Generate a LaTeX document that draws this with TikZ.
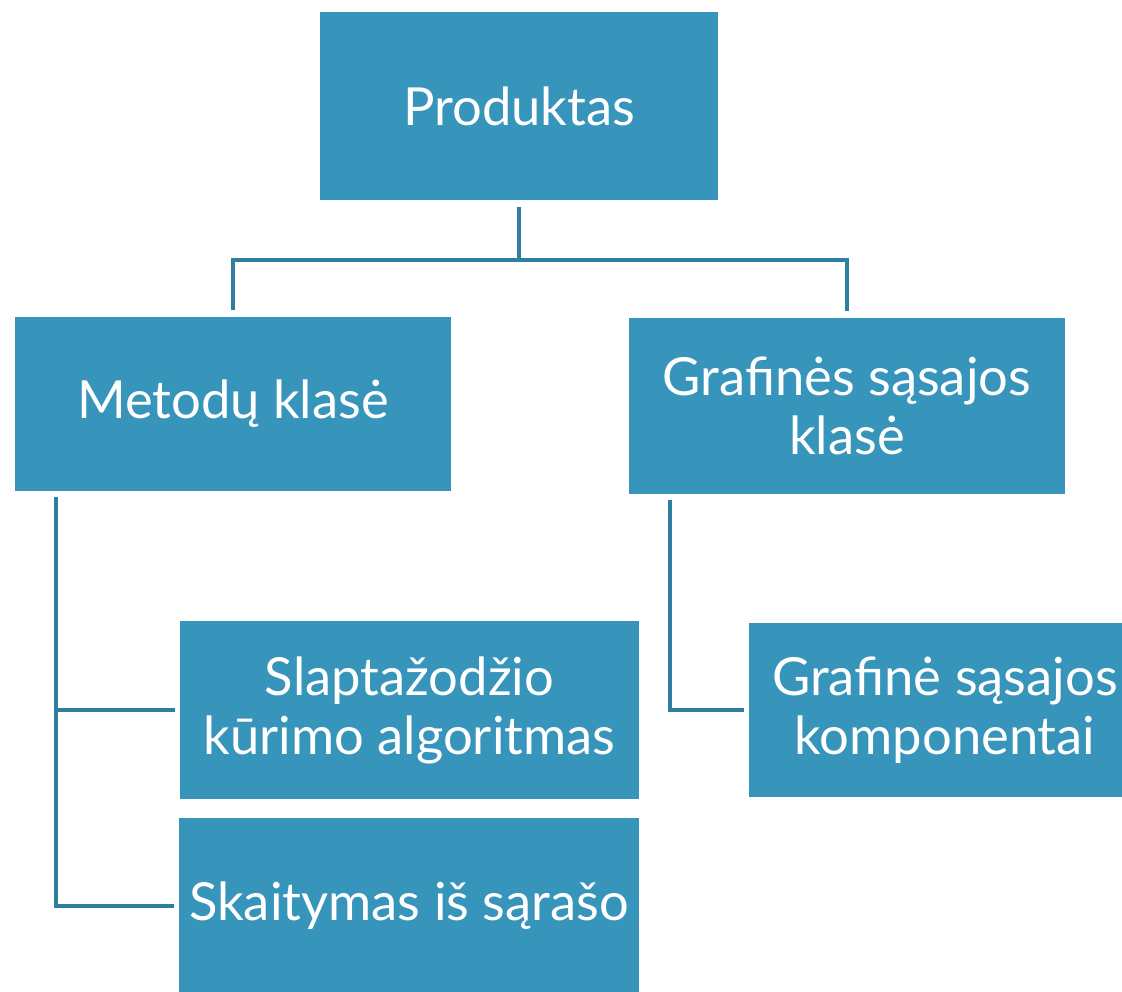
\documentclass[tikz,border=0pt]{standalone}
\usepackage{fontspec}
\setmainfont{Lato}
\usetikzlibrary{calc}

\definecolor{boxblue}{HTML}{3795BB}
\definecolor{lineblue}{HTML}{2E7E9F}

\tikzset{
    box/.style={fill=boxblue, text=white, align=center, inner sep=0pt,
        font=\fontsize{52.5}{59}\selectfont},
    link/.style={draw=lineblue, line width=4.5pt}
}

\begin{document}
\begin{tikzpicture}[x=1pt,y=-1pt]
        \useasboundingbox (0,0) rectangle (1122,992);
        \node [box, minimum width=398pt, minimum height=188pt] (prod) at (519,106) {Produktas};
        \node [box, minimum width=436pt, minimum height=174pt] (metod) at (233,404) {Metodų klasė};
        \node [box, minimum width=436pt, minimum height=176pt] (graf) at (847,406) {Grafinės sąsajos\\klasė};
        \node [box, minimum width=459pt, minimum height=178pt] (slapt) at (409.5,710) {Slaptažodžio\\kūrimo algoritmas};
        \node [box, minimum width=460pt, minimum height=176pt] (skait) at (409,906) {Skaitymas iš sąrašo};
        \node [box, minimum width=392pt, minimum height=174pt] (komp) at (945,710) {Grafinė sąsajos\\komponentai};
        \draw [link, shorten <=7pt] (prod.south) -- ++(0,60) -| ([yshift=7pt]metod.north);
        \draw [link] (prod.south) ++(0,60) -| ([yshift=7pt]graf.north);
        \draw [link] ($(metod.south west)+(41,6)$) |- ([xshift=-5pt]slapt.west);
        \draw [link] ($(metod.south west)+(41,6)$) |- ([xshift=-5pt]skait.west);
        \draw [link] ($(graf.south west)+(41,6)$) |- ([xshift=-5pt]komp.west);
    \end{tikzpicture}
\end{document}
